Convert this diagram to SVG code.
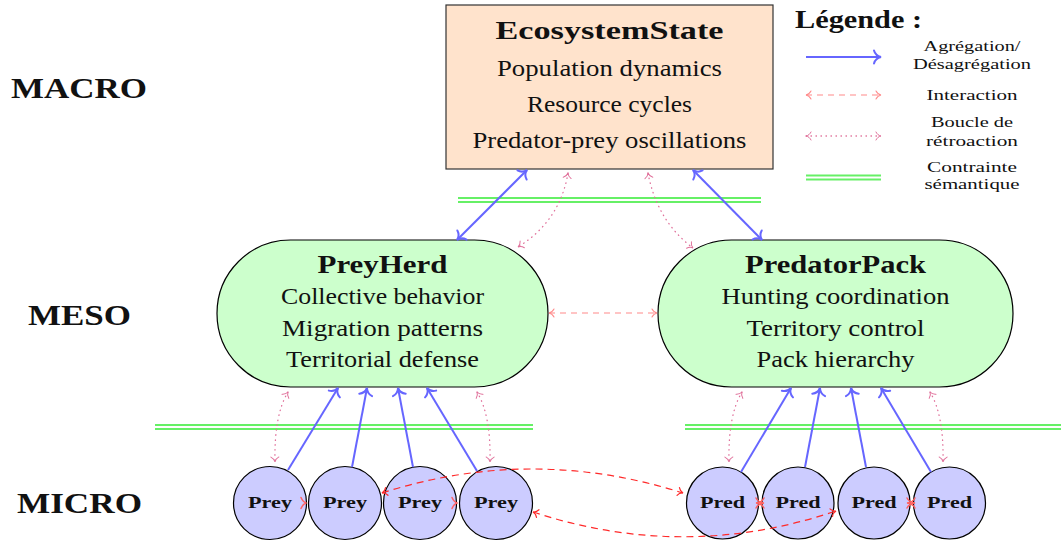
<svg xmlns="http://www.w3.org/2000/svg" width="1061" height="543" viewBox="0 0 1061 543">
  <style>
    text { font-family: "Liberation Serif", "Times New Roman", serif; fill: #111; }
    .c { text-anchor: middle; }
    .title { font-size: 25px; font-weight: bold; }
    .body { font-size: 23px; }
    .level { font-size: 29px; font-weight: bold; }
    .leg { font-size: 15.5px; text-anchor: middle; }
    .atom { font-size: 16px; font-weight: bold; text-anchor: middle; }
    .macro { fill: #FFE3CC; stroke: #333; stroke-width: 1.2; }
    .meso { fill: #CCFFCC; stroke: #000; stroke-width: 1.2; }
    .micro { fill: #CCCCFF; stroke: #000; stroke-width: 1.2; }
    .agg { stroke: #6666FF; stroke-width: 2; fill: none; }
    .inter { stroke: #FF8A8A; stroke-width: 1.2; fill: none; stroke-dasharray: 6 5; }
    .inter-strong { stroke: #FF2A2A; stroke-width: 1.2; fill: none; stroke-dasharray: 7 5; }
    .fb { stroke: #E0709A; stroke-width: 1.3; fill: none; stroke-dasharray: 0.5 4.5; stroke-linecap: round; }
    .sem { stroke: #66F066; stroke-width: 6; fill: none; }
    .sem-gap { stroke: #FFFFFF; stroke-width: 2; fill: none; }
    .tip { stroke: #FF6060; stroke-width: 1.5; fill: none; stroke-linecap: round; }
  </style>
  <defs>
    <marker id="toBlue" markerUnits="userSpaceOnUse" markerWidth="20" markerHeight="20" refX="9" refY="9" orient="auto-start-reverse" overflow="visible">
      <path d="M 2,2.5 C 3,6 5.5,8.3 9,9 C 5.5,9.7 3,12 2,15.5" fill="none" stroke="#6666FF" stroke-width="2" stroke-linecap="round"/>
    </marker>
    <marker id="toPink" markerUnits="userSpaceOnUse" markerWidth="20" markerHeight="20" refX="9" refY="9" orient="auto-start-reverse" overflow="visible">
      <path d="M 4,5 C 5,7 6.5,8.5 9,9 C 6.5,9.5 5,11 4,13" fill="none" stroke="#E0709A" stroke-width="1" stroke-linecap="round"/>
    </marker>
    <marker id="toLight" markerUnits="userSpaceOnUse" markerWidth="20" markerHeight="20" refX="9" refY="9" orient="auto-start-reverse" overflow="visible">
      <path d="M 4,5 C 5,7 6.5,8.5 9,9 C 6.5,9.5 5,11 4,13" fill="none" stroke="#FF8A8A" stroke-width="1.1" stroke-linecap="round"/>
    </marker>
    <marker id="toRed" markerUnits="userSpaceOnUse" markerWidth="20" markerHeight="20" refX="9" refY="9" orient="auto-start-reverse" overflow="visible">
      <path d="M 4,5 C 5,7 6.5,8.5 9,9 C 6.5,9.5 5,11 4,13" fill="none" stroke="#FF2A2A" stroke-width="1.2" stroke-linecap="round"/>
    </marker>
  </defs>

  <!-- level labels -->
  <g id="levels">
    <text class="level c" x="79" y="98" textLength="136" lengthAdjust="spacingAndGlyphs">MACRO</text>
    <text class="level c" x="79.5" y="325" textLength="103" lengthAdjust="spacingAndGlyphs">MESO</text>
    <text class="level c" x="79.5" y="513" textLength="125" lengthAdjust="spacingAndGlyphs">MICRO</text>
  </g>

  <!-- macro level -->
  <g id="ecosystem-state">
    <rect class="macro" x="446" y="5" width="327" height="164"/>
    <text class="title c" x="609.5" y="39" textLength="228" lengthAdjust="spacingAndGlyphs">EcosystemState</text>
    <text class="body c" x="609.5" y="76" textLength="225" lengthAdjust="spacingAndGlyphs">Population dynamics</text>
    <text class="body c" x="609.5" y="112" textLength="165" lengthAdjust="spacingAndGlyphs">Resource cycles</text>
    <text class="body c" x="609.5" y="148" textLength="274" lengthAdjust="spacingAndGlyphs">Predator-prey oscillations</text>
  </g>

  <!-- meso level -->
  <g id="prey-herd">
    <rect class="meso" x="217" y="240" width="331" height="147" rx="73.5" ry="73.5"/>
    <text class="title c" x="382.5" y="273" textLength="130" lengthAdjust="spacingAndGlyphs">PreyHerd</text>
    <text class="body c" x="382.5" y="304" textLength="203" lengthAdjust="spacingAndGlyphs">Collective behavior</text>
    <text class="body c" x="382.5" y="336" textLength="201" lengthAdjust="spacingAndGlyphs">Migration patterns</text>
    <text class="body c" x="382.5" y="367" textLength="193" lengthAdjust="spacingAndGlyphs">Territorial defense</text>
  </g>
  <g id="predator-pack">
    <rect class="meso" x="658" y="240" width="355" height="147" rx="73.5" ry="73.5"/>
    <text class="title c" x="835.5" y="273" textLength="181" lengthAdjust="spacingAndGlyphs">PredatorPack</text>
    <text class="body c" x="835.5" y="304" textLength="228" lengthAdjust="spacingAndGlyphs">Hunting coordination</text>
    <text class="body c" x="835.5" y="336" textLength="178" lengthAdjust="spacingAndGlyphs">Territory control</text>
    <text class="body c" x="835.5" y="367" textLength="158" lengthAdjust="spacingAndGlyphs">Pack hierarchy</text>
  </g>

  <!-- micro level -->
  <g id="prey-1"><circle class="micro" cx="270" cy="503" r="36.5"/><text class="atom" x="270" y="508" textLength="44" lengthAdjust="spacingAndGlyphs">Prey</text></g>
  <g id="prey-2"><circle class="micro" cx="345" cy="503" r="36.5"/><text class="atom" x="345" y="508" textLength="44" lengthAdjust="spacingAndGlyphs">Prey</text></g>
  <g id="prey-3"><circle class="micro" cx="420" cy="503" r="36.5"/><text class="atom" x="420" y="508" textLength="44" lengthAdjust="spacingAndGlyphs">Prey</text></g>
  <g id="prey-4"><circle class="micro" cx="496" cy="503" r="36.5"/><text class="atom" x="496" y="508" textLength="44" lengthAdjust="spacingAndGlyphs">Prey</text></g>
  <g id="pred-1"><circle class="micro" cx="722.5" cy="503" r="36"/><text class="atom" x="722.5" y="508" textLength="45" lengthAdjust="spacingAndGlyphs">Pred</text></g>
  <g id="pred-2"><circle class="micro" cx="798" cy="503" r="36"/><text class="atom" x="798" y="508" textLength="45" lengthAdjust="spacingAndGlyphs">Pred</text></g>
  <g id="pred-3"><circle class="micro" cx="874" cy="503" r="36"/><text class="atom" x="874" y="508" textLength="45" lengthAdjust="spacingAndGlyphs">Pred</text></g>
  <g id="pred-4"><circle class="micro" cx="949.5" cy="503" r="36"/><text class="atom" x="949.5" y="508" textLength="45" lengthAdjust="spacingAndGlyphs">Pred</text></g>

  <!-- connectors -->
  <g id="connectors">
    <!-- semantic constraints between levels -->
    <line class="sem" x1="458" y1="200" x2="761" y2="200"/>
    <line class="sem-gap" x1="458" y1="200" x2="761" y2="200"/>
    <line class="sem" x1="155" y1="427" x2="533" y2="427"/>
    <line class="sem-gap" x1="155" y1="427" x2="533" y2="427"/>
    <line class="sem" x1="685" y1="427" x2="1061" y2="427"/>
    <line class="sem-gap" x1="685" y1="427" x2="1061" y2="427"/>

    <!-- aggregation / disaggregation macro <-> meso -->
    <line class="agg" x1="527" y1="170" x2="457" y2="240" marker-start="url(#toBlue)" marker-end="url(#toBlue)"/>
    <line class="agg" x1="693" y1="170" x2="762" y2="240" marker-start="url(#toBlue)" marker-end="url(#toBlue)"/>

    <!-- feedback loops macro <-> meso -->
    <path class="fb" d="M 568,173 Q 560,221 518,247" marker-start="url(#toPink)" marker-end="url(#toPink)"/>
    <path class="fb" d="M 648,173 Q 657,221 693,248" marker-start="url(#toPink)" marker-end="url(#toPink)"/>

    <!-- meso interaction -->
    <line class="inter" x1="549" y1="313" x2="657" y2="313" marker-start="url(#toLight)" marker-end="url(#toLight)"/>

    <!-- aggregation micro -> meso -->
    <line class="agg" x1="288" y1="470" x2="338" y2="388" marker-end="url(#toBlue)"/>
    <line class="agg" x1="352" y1="467" x2="367" y2="388" marker-end="url(#toBlue)"/>
    <line class="agg" x1="413" y1="467" x2="398" y2="388" marker-end="url(#toBlue)"/>
    <line class="agg" x1="477" y1="471" x2="427" y2="388" marker-end="url(#toBlue)"/>
    <line class="agg" x1="741" y1="472" x2="791" y2="388" marker-end="url(#toBlue)"/>
    <line class="agg" x1="805" y1="467" x2="820" y2="388" marker-end="url(#toBlue)"/>
    <line class="agg" x1="866" y1="467" x2="851" y2="388" marker-end="url(#toBlue)"/>
    <line class="agg" x1="931" y1="472" x2="881" y2="388" marker-end="url(#toBlue)"/>

    <!-- feedback loops meso <-> micro -->
    <path class="fb" d="M 288,392 Q 274,415 275,462" marker-start="url(#toPink)" marker-end="url(#toPink)"/>
    <path class="fb" d="M 477,392 Q 491,415 490,462" marker-start="url(#toPink)" marker-end="url(#toPink)"/>
    <path class="fb" d="M 742,392 Q 728,415 729,462" marker-start="url(#toPink)" marker-end="url(#toPink)"/>
    <path class="fb" d="M 930,392 Q 944,415 943,462" marker-start="url(#toPink)" marker-end="url(#toPink)"/>

    <!-- neighbour interactions between touching agents -->
    <path class="tip" d="M 301,497.5 C 302.5,501 304,502.5 306.5,503 C 304,503.5 302.5,505 301,508.5"/>
    <path class="tip" d="M 452,497.5 C 453.5,501 455,502.5 457.5,503 C 455,503.5 453.5,505 452,508.5"/>
    <path class="tip" d="M 756,498 C 757.5,501 759,502.5 764,503 C 759,503.5 757.5,505 756,508"/>
    <path class="tip" d="M 764,498 C 762.5,501 761,502.5 756,503 C 761,503.5 762.5,505 764,508"/>
    <path class="tip" d="M 907,498 C 908.5,501 910,502.5 915,503 C 910,503.5 908.5,505 907,508"/>
    <path class="tip" d="M 915,498 C 913.5,501 912,502.5 907,503 C 912,503.5 913.5,505 915,508"/>

    <!-- cross-group interactions prey <-> predators -->
    <path class="inter-strong" d="M 382,493 Q 532,445 683,493" marker-start="url(#toRed)" marker-end="url(#toRed)"/>
    <path class="inter-strong" d="M 533,512 Q 685,562 836,511" marker-start="url(#toRed)" marker-end="url(#toRed)"/>
  </g>

  <!-- legend -->
  <g id="legend">
    <text class="title" x="795" y="28" font-size="23" textLength="127" lengthAdjust="spacingAndGlyphs">Légende :</text>
    <line class="agg" x1="806" y1="57" x2="881" y2="57" marker-end="url(#toBlue)"/>
    <text class="leg" x="972" y="51" textLength="97" lengthAdjust="spacingAndGlyphs">Agrégation/</text>
    <text class="leg" x="972" y="69" textLength="118" lengthAdjust="spacingAndGlyphs">Désagrégation</text>
    <line class="inter" x1="806" y1="95" x2="881" y2="95" marker-start="url(#toLight)" marker-end="url(#toLight)"/>
    <text class="leg" x="972" y="100" textLength="91" lengthAdjust="spacingAndGlyphs">Interaction</text>
    <line class="fb" x1="806" y1="136" x2="881" y2="136" marker-start="url(#toPink)" marker-end="url(#toPink)"/>
    <text class="leg" x="972" y="127" textLength="82" lengthAdjust="spacingAndGlyphs">Boucle de</text>
    <text class="leg" x="972" y="146" textLength="92" lengthAdjust="spacingAndGlyphs">rétroaction</text>
    <line class="sem" x1="806" y1="177.5" x2="881" y2="177.5"/>
    <line class="sem-gap" x1="806" y1="177.5" x2="881" y2="177.5"/>
    <text class="leg" x="972" y="172" textLength="90" lengthAdjust="spacingAndGlyphs">Contrainte</text>
    <text class="leg" x="972" y="189" textLength="95" lengthAdjust="spacingAndGlyphs">sémantique</text>
  </g>
</svg>
